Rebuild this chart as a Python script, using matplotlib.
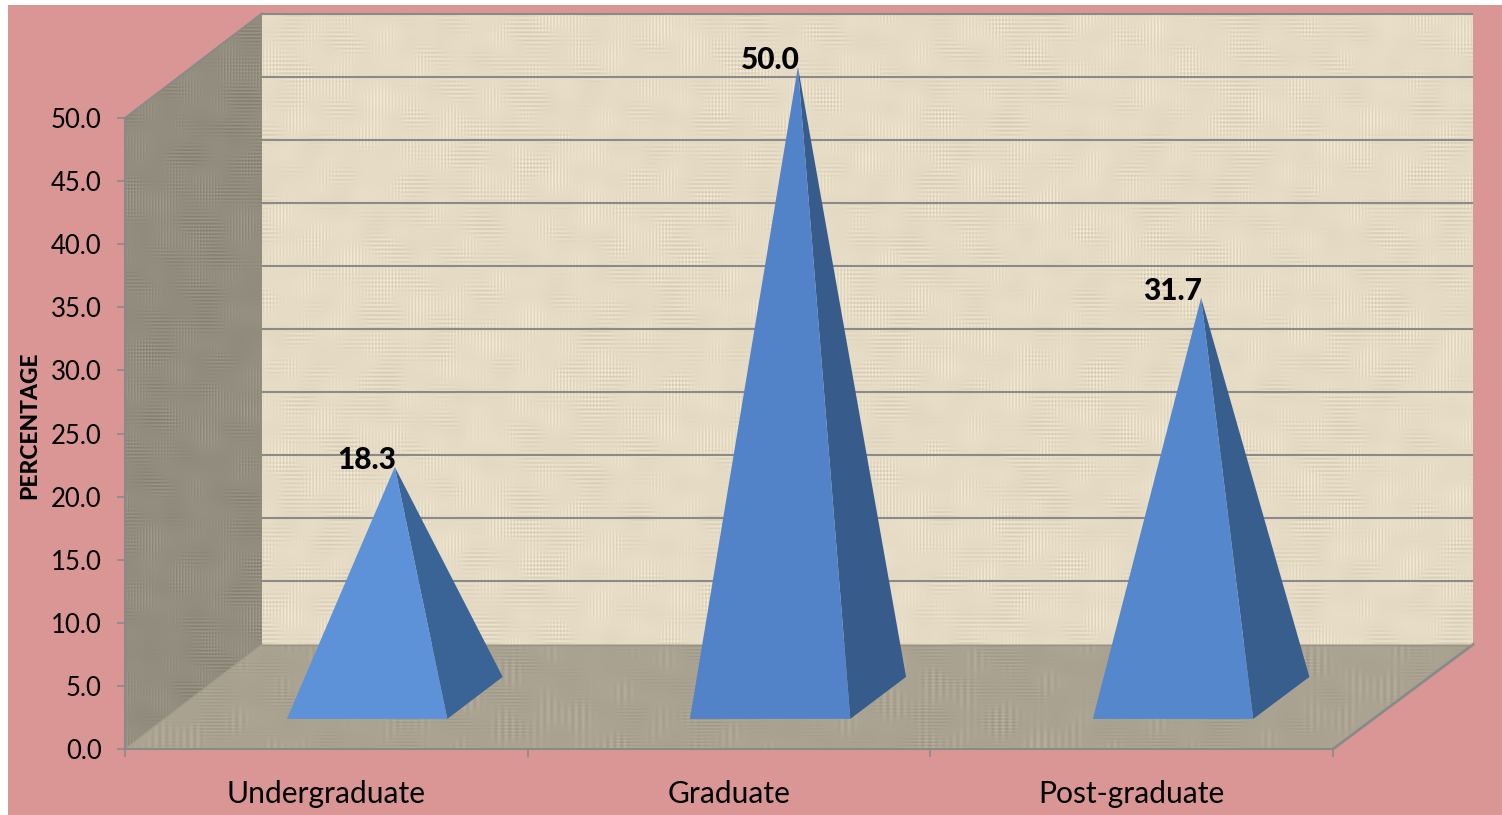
import numpy as np
import matplotlib
matplotlib.use("Agg")
import matplotlib.pyplot as plt
from matplotlib.patches import Polygon, Rectangle
from matplotlib.ticker import FormatStrFormatter

# ---- data ----
categories = ["Undergraduate", "Graduate", "Post-graduate"]
values = [18.3, 50.0, 31.7]
y_ticks = [0, 5, 10, 15, 20, 25, 30, 35, 40, 45, 50]
y_label = "PERCENTAGE"

W, H = 1502, 815
plt.rcParams["font.family"] = ["Lato", "DejaVu Sans"]
fig = plt.figure(figsize=(W / 100, H / 100), dpi=100, facecolor="white")
fig.patches.append(Rectangle((8 / W, 0), 1 - 8 / W, 1 - 5 / H, transform=fig.transFigure,
                             facecolor="#D99694", edgecolor="none", zorder=-10))

# front plane of the 3-D box in pixels
L, R, B, T = 125, 1333, 749, 118
ax = fig.add_axes([L / W, 1 - B / H, (R - L) / W, (B - T) / H])
ax.patch.set_visible(False)
ax.set_xlim(0, 3)
ax.set_ylim(0, 50)

# oblique projection of depth, in data units
ux = 3 / (R - L)
uy = 50 / (B - T)
DY = 104.5 * uy


def proj(x, y, d):
    # depth shift grows slightly to the right (slight perspective of the box)
    return (x + d * (137 + x) * ux, y + d * DY)


def weave(base, amp, p1, p2, shift=0.0):
    """Deterministic woven texture made from crossed periodic threads."""
    yy, xx = np.mgrid[0:H, 0:W].astype(float)
    m1 = (np.sin(xx / 17.3 + shift + 2 * np.sin(yy / 41)) * np.sin(yy / 9.7 - shift + 1.5 * np.sin(xx / 57))
          + 0.5 * np.sin(xx / 6.1 + yy / 37) + 0.5 * np.sin(xx / 71 - yy / 29))
    m2 = (np.sin(xx / 11.9 - shift + 2 * np.cos(yy / 33)) * np.cos(yy / 21.7 + 1.5 * np.sin(xx / 47))
          + 0.5 * np.cos(yy / 5.3 - xx / 43) + 0.5 * np.sin(xx / 39 + yy / 83))
    t = (np.sin(2 * np.pi * xx / p1) * np.clip(m1, 0, 1.2)
         + np.sin(2 * np.pi * yy / p2) * np.clip(m2, 0, 1.2))
    t = t + 0.35 * (m1 - m2) * 0.5
    rgb = np.array(matplotlib.colors.to_rgb(base))[None, None, :] + amp * t[:, :, None]
    return np.clip(rgb, 0, 1)


def textured(poly_pts, base, amp, p1, p2, z, shift=0.0):
    """Fill a polygon (data coords) with the woven texture."""
    poly = Polygon(poly_pts, closed=True, transform=ax.transData, facecolor="none", edgecolor="none")
    ax.add_patch(poly)
    ext = (-L * ux, (W - L) * ux, (B - H) * uy, B * uy)
    im = ax.imshow(weave(base, amp, p1, p2, shift), extent=ext, origin="upper", aspect="auto",
                   interpolation="bilinear", zorder=z)
    im.set_clip_box(fig.bbox)
    im.set_clip_path(poly)


ymax = y_ticks[-1]
xmax = 3
wall = [proj(0, 0, 1), proj(xmax, 0, 1), proj(xmax, ymax, 1), proj(0, ymax, 1)]
side = [proj(0, 0, 0), proj(0, 0, 1), proj(0, ymax, 1), proj(0, ymax, 0)]
floor = [proj(0, 0, 0), proj(xmax, 0, 0), proj(xmax, 0, 1), proj(0, 0, 1)]
textured(wall, "#E6DCC5", 0.035, 3.3, 4.1, 1)
textured(side, "#928D7E", 0.035, 3, 3.5, 1, 1.3)
textured(floor, "#ABA392", 0.025, 7, 3.3, 1, 2.1)
ax.set_xlim(0, 3)
ax.set_ylim(0, 50)

GREY = "#8A8A8A"
# gridlines on the back wall
for t in y_ticks[1:]:
    xs, ys = zip(proj(0, t, 1), proj(xmax, t, 1))
    ax.plot(xs, ys, color=GREY, lw=1.5, zorder=2, clip_on=False, solid_capstyle="butt")
# box outline edges
for a, b, c in [(proj(0, ymax, 0), proj(0, ymax, 1), 1.5),
                (proj(xmax, 0, 0), proj(xmax, 0, 1), 2.0)]:
    ax.plot([a[0], b[0]], [a[1], b[1]], color=GREY, lw=c, zorder=2, clip_on=False)
a, b = proj(0, 0, 1), proj(xmax, 0, 1)
ax.plot([a[0], b[0]], [a[1], b[1]], color="#9A9484", lw=1, zorder=2, clip_on=False)
a, b = proj(0, 0, 0), proj(0, 0, 1)
ax.plot([a[0], b[0]], [a[1], b[1]], color="#A39C8C", lw=1, zorder=2, clip_on=False)

# pyramids
half = 0.199
d0, d1 = 0.288, 0.69
dm = (d0 + d1) / 2
off = 0.003
front_cols = ["#5D91D8", "#5283C9", "#5587CC"]
side_col = ["#3A6496", "#375C8B", "#375E8D"]
for i, v in enumerate(values):
    c = i + 0.5 + off
    fl = proj(c - half, 0, d0)
    fr = proj(c + half, 0, d0)
    br = proj(c + half, 0, d1)
    apex = proj(c, v, dm)
    ax.add_patch(Polygon([fr, br, apex], closed=True, facecolor=side_col[i], edgecolor="none",
                         zorder=3, clip_on=False))
    ax.add_patch(Polygon([fl, fr, apex], closed=True, facecolor=front_cols[i], edgecolor="none",
                         zorder=4, clip_on=False))
    ax.annotate(f"{v:.1f}", xy=apex, xytext=(1, -5), textcoords="offset points", ha="right", va="bottom",
                fontsize=21.5, fontweight=900, color="black", zorder=6, annotation_clip=False)

# axes furniture
for s in ("top", "right"):
    ax.spines[s].set_visible(False)
for s in ("left", "bottom"):
    ax.spines[s].set_color(GREY)
    ax.spines[s].set_linewidth(1.5)
    ax.spines[s].set_zorder(5)
ax.set_yticks(y_ticks)
ax.yaxis.set_major_formatter(FormatStrFormatter("%.1f"))
ax.tick_params(axis="y", length=5.8, width=1.2, color=GREY, labelsize=18.5, pad=11, labelcolor="black")
ax.set_xticks(range(4))
ax.set_xticklabels([])
ax.set_xticks([i + 0.5 for i in range(3)], minor=True)
ax.set_xticklabels(categories, minor=True)
ax.tick_params(axis="x", which="major", length=6, width=1.2, color=GREY)
ax.tick_params(axis="x", which="minor", length=0, labelsize=21.6, pad=22, labelcolor="black")
fig.text(30 / W, 1 - 425 / H, y_label, rotation=90, ha="center", va="center",
         fontsize=16.4, fontweight=900, color="black")

fig.savefig("out.png", dpi=100, facecolor="white")
